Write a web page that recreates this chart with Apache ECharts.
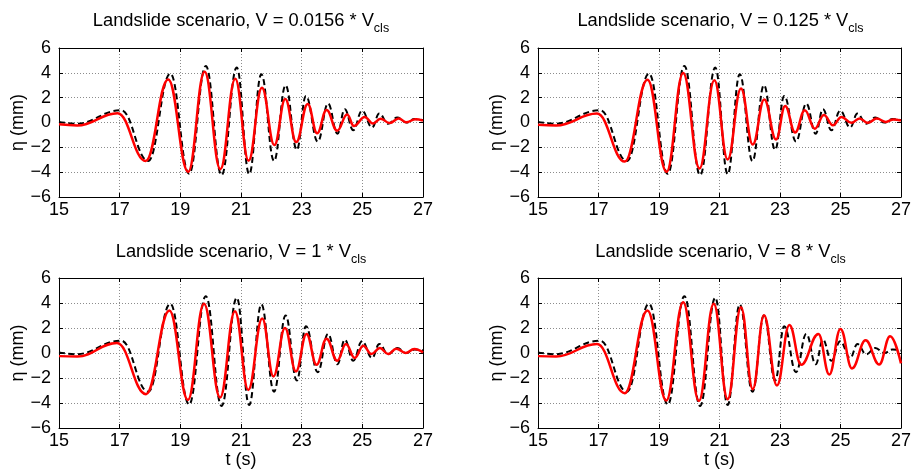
<!DOCTYPE html>
<html>
<head>
<meta charset="utf-8">
<script src="https://cdn.jsdelivr.net/npm/echarts@6/dist/echarts.min.js"></script>
<style>
  html, body { margin: 0; padding: 0; background: #ffffff; }
  #chart { width: 914px; height: 471px; }
</style>
</head>
<body>
<div id="chart"></div>
<script>
// Axis ticks (time in s, elevation in mm)
const xTicks = [15, 17, 19, 21, 23, 25, 27];
const yTicks = [-6, -4, -2, 0, 2, 4, 6];

// Panel titles: landslide velocity as a multiple of V_cls
const velocityFactors = ['0.0156', '0.125', '1', '8'];

// Measured elevation (dashed black), crests and troughs
const tMeasured = [15.0, 15.55, 17.05, 17.94, 18.67, 19.29, 19.84, 20.36, 20.86, 21.27, 21.67, 22.09, 22.47, 22.84,
  23.14, 23.53, 23.87, 24.18, 24.42, 24.70, 24.99, 25.32, 25.56, 25.85, 26.15, 26.45, 26.72, 27.0];
const etaMeasured = [0.05, -0.10, 0.99, -3.10, 3.94, -4.12, 4.55, -4.24, 4.42, -4.16, 3.89, -3.10, 3.00, -2.20,
  2.14, -1.53, 1.53, -0.90, 1.07, -0.62, 0.95, -0.40, 0.72, -0.10, 0.40, 0.00, 0.28, 0.20];

// Simulated elevation (solid red), V = 0.0156 * Vcls
const tSim1 = [15.0, 15.6, 16.93, 17.86, 18.60, 19.26, 19.80, 20.32, 20.81, 21.25, 21.69, 22.10, 22.46, 22.82,
  23.20, 23.51, 23.82, 24.17, 24.50, 24.72, 25.08, 25.35, 25.60, 25.90, 26.20, 26.45, 26.75, 27.0];
const etaSim1 = [-0.15, -0.24, 0.75, -3.10, 3.47, -3.97, 4.08, -3.76, 3.52, -3.08, 2.80, -1.82, 1.90, -1.58,
  1.50, -0.87, 1.00, -0.66, 0.64, -0.28, 0.45, -0.08, 0.30, -0.04, 0.33, 0.02, 0.26, 0.15];

// V = 0.125 * Vcls
const tSim2 = [15.0, 15.6, 16.95, 17.87, 18.62, 19.25, 19.80, 20.34, 20.83, 21.27, 21.71, 22.10, 22.48, 22.87,
  23.17, 23.50, 23.82, 24.15, 24.45, 24.75, 25.03, 25.36, 25.63, 25.90, 26.20, 26.50, 26.75, 27.0];
const etaSim2 = [-0.18, -0.24, 0.72, -3.15, 3.45, -3.97, 3.99, -3.70, 3.40, -2.98, 2.73, -1.77, 1.85, -1.37,
  1.33, -0.80, 0.99, -0.50, 0.60, -0.22, 0.45, -0.03, 0.32, -0.03, 0.32, 0.05, 0.25, 0.15];

// V = 1 * Vcls
const tSim3 = [15.0, 15.6, 16.91, 17.87, 18.64, 19.25, 19.78, 20.31, 20.80, 21.24, 21.70, 22.07, 22.45, 22.81,
  23.16, 23.49, 23.82, 24.17, 24.46, 24.75, 25.03, 25.30, 25.58, 25.85, 26.12, 26.43, 26.71, 27.0];
const etaSim3 = [-0.25, -0.28, 0.80, -3.29, 3.40, -3.75, 3.94, -3.56, 3.35, -2.95, 2.76, -1.87, 2.00, -1.47,
  1.53, -0.94, 1.15, -0.62, 0.72, -0.40, 0.59, -0.08, 0.40, -0.08, 0.35, 0.00, 0.32, 0.05];

// V = 8 * Vcls
const tSim4 = [15.0, 15.6, 16.95, 17.87, 18.62, 19.24, 19.80, 20.32, 20.81, 21.27, 21.71, 22.10, 22.47, 22.90,
  23.31, 23.70, 24.27, 24.63, 25.00, 25.38, 25.83, 26.28, 26.64, 27.0];
const etaSim4 = [-0.25, -0.28, 0.72, -3.21, 3.40, -3.80, 4.07, -3.83, 3.94, -3.69, 3.67, -2.89, 3.03, -2.60,
  2.25, -0.94, 1.53, -1.72, 1.93, -1.23, 1.02, -0.91, 1.34, -0.83];

const simulated = [[tSim1, etaSim1], [tSim2, etaSim2], [tSim3, etaSim3], [tSim4, etaSim4]];

const FONT = '"Liberation Sans", Arial, Helvetica, sans-serif';

// Panel boxes in pixels
const panels = [
  { left: 59, top: 48, width: 364, height: 149, xName: '' },
  { left: 538, top: 48, width: 365, height: 149, xName: '' },
  { left: 59, top: 278, width: 364, height: 150, xName: 't (s)' },
  { left: 538, top: 278, width: 365, height: 150, xName: 't (s)' }
];

const pairs = (ts, vs) => ts.map((t, i) => [t, vs[i]]);
const fmtTick = v => (v < 0 ? '\u2212' + Math.abs(v) : String(v));

const grid = [], xAxis = [], yAxis = [], series = [], graphic = [];

panels.forEach((p, k) => {
  grid.push({ left: p.left, top: p.top, width: p.width, height: p.height, containLabel: false });

  const gridLine = { show: true, lineStyle: { color: '#8c8c8c', type: [1, 2], width: 1 } };
  const frame = { show: true, onZero: false, lineStyle: { color: '#000', width: 1 } };
  const tick = { show: true, inside: true, length: 4, lineStyle: { color: '#000', width: 1 } };

  // bottom x axis with labels
  xAxis.push({
    type: 'value', gridIndex: k, position: 'bottom',
    min: xTicks[0], max: xTicks[xTicks.length - 1], interval: xTicks[1] - xTicks[0],
    axisLine: frame, axisTick: tick, splitLine: gridLine,
    axisLabel: { color: '#000', fontFamily: FONT, fontSize: 18, margin: 4, formatter: fmtTick },
    name: p.xName, nameLocation: 'middle', nameGap: 22,
    nameTextStyle: { color: '#000', fontFamily: FONT, fontSize: 18 }
  });
  // top x axis: frame and ticks only
  xAxis.push({
    type: 'value', gridIndex: k, position: 'top',
    min: xTicks[0], max: xTicks[xTicks.length - 1], interval: xTicks[1] - xTicks[0],
    axisLine: frame, axisTick: tick, splitLine: { show: false }, axisLabel: { show: false }
  });
  // left y axis with labels
  yAxis.push({
    type: 'value', gridIndex: k, position: 'left',
    min: yTicks[0], max: yTicks[yTicks.length - 1], interval: yTicks[1] - yTicks[0],
    axisLine: frame, axisTick: tick, splitLine: gridLine,
    axisLabel: { color: '#000', fontFamily: FONT, fontSize: 18, margin: 8, formatter: fmtTick },
    name: '\u03b7 (mm)', nameLocation: 'middle', nameGap: 25, nameRotate: 90,
    nameTextStyle: { color: '#000', fontFamily: FONT, fontSize: 18 }
  });
  // right y axis: frame and ticks only
  yAxis.push({
    type: 'value', gridIndex: k, position: 'right',
    min: yTicks[0], max: yTicks[yTicks.length - 1], interval: yTicks[1] - yTicks[0],
    axisLine: frame, axisTick: tick, splitLine: { show: false }, axisLabel: { show: false }
  });

  const xi = 2 * k, yi = 2 * k;
  series.push({
    type: 'line', xAxisIndex: xi, yAxisIndex: yi,
    data: pairs(tMeasured, etaMeasured),
    showSymbol: false, smooth: 0.42, smoothMonotone: 'x',
    lineStyle: { color: '#000', width: 2, type: [6, 3.5] },
    silent: true, animation: false, z: 2
  });
  series.push({
    type: 'line', xAxisIndex: xi, yAxisIndex: yi,
    data: pairs(simulated[k][0], simulated[k][1]),
    showSymbol: false, smooth: 0.42, smoothMonotone: 'x',
    lineStyle: { color: '#ff0000', width: 2.5 },
    silent: true, animation: false, z: 3
  });

  // panel title with subscript
  graphic.push({
    type: 'text',
    x: p.left + p.width / 2,
    y: k < 2 ? 11.5 : 242.5,
    style: {
      text: '{n|Landslide scenario, V = ' + velocityFactors[k] + ' * V}{s|cls}',
      align: 'center', verticalAlign: 'top', fill: '#000',
      rich: {
        n: { fontFamily: FONT, fontSize: 18.3, lineHeight: 18, verticalAlign: 'top', fill: '#000' },
        s: { fontFamily: FONT, fontSize: 12.5, lineHeight: 12.5, padding: [11, 0, 0, 0], verticalAlign: 'top', fill: '#000' }
      }
    }
  });
});

const chart = echarts.init(document.getElementById('chart'), null, { renderer: 'canvas' });
chart.setOption({
  backgroundColor: '#ffffff',
  animation: false,
  grid, xAxis, yAxis, series, graphic
});
</script>
</body>
</html>
